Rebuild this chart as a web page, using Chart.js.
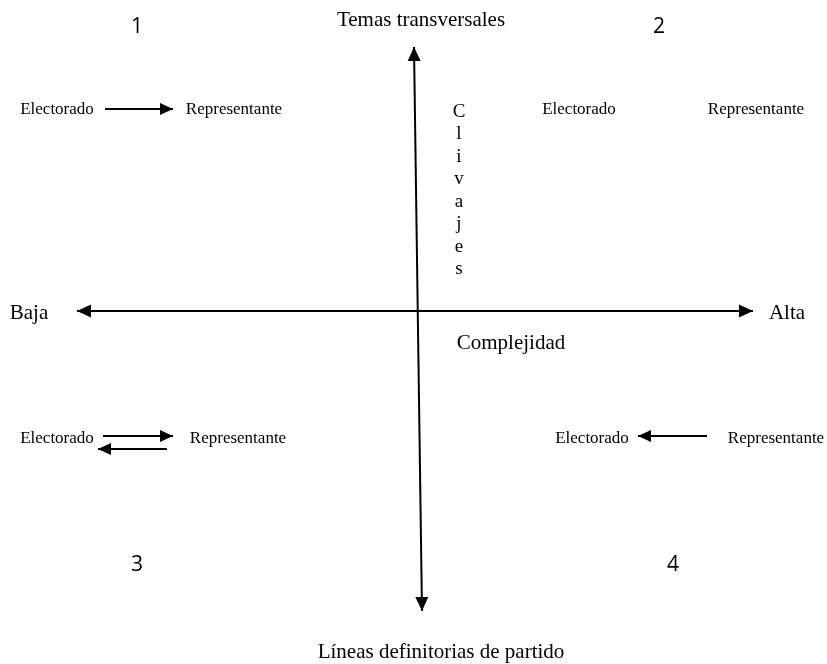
<!DOCTYPE html>
<html lang="es">
<head>
<meta charset="utf-8">
<title>Complejidad y clivajes</title>
<script src="https://cdn.jsdelivr.net/npm/chart.js@4/dist/chart.umd.min.js"></script>
<style>
  html, body { margin: 0; padding: 0; background: #fff; }
  #wrap { width: 827px; height: 664px; position: relative; }
</style>
</head>
<body>
<div id="wrap"><canvas id="diagram"></canvas></div>
<script>
// diagram space: origin where the two axes cross, y grows upwards
const xRange = [-418, 409];
const yRange = [-353, 311];

// axes (both ends carry an arrowhead)
const axisComplejidad = [{ x: -341, y: 0 }, { x: 335, y: 0 }];
const axisClivajes = [{ x: -4, y: 264 }, { x: 4, y: -300 }];

// relation arrows, drawn from first point to head
const arrowsQ1 = [[{ x: -313, y: 202 }, { x: -245, y: 202 }]];
const arrowsQ3 = [
  [{ x: -315, y: -125 }, { x: -245, y: -125 }],
  [{ x: -251, y: -138 }, { x: -320, y: -138 }],
];
const arrowsQ4 = [[{ x: 289, y: -125 }, { x: 220, y: -125 }]];

// quadrant numbers
const quadrantNums = ['1', '2', '3', '4'];
const quadrantPos = [{ x: -281, y: 284 }, { x: 241, y: 284 }, { x: -281, y: -254 }, { x: 255, y: -254 }];

// actor labels per quadrant
const actorLabels = ['Electorado', 'Representante'];
const actorPos = [
  [{ x: -361, y: 201 }, { x: -184, y: 201 }],
  [{ x: 161, y: 201 }, { x: 338, y: 201 }],
  [{ x: -361, y: -128 }, { x: -180, y: -128 }],
  [{ x: 174, y: -128 }, { x: 358, y: -128 }],
];

// axis titles
const axisTitles = ['Temas transversales', 'Complejidad', 'Líneas definitorias de partido', 'Baja', 'Alta'];
const axisTitlePos = [{ x: 3, y: 291 }, { x: 93, y: -32 }, { x: 23, y: -341 }, { x: -389, y: -2 }, { x: 369, y: -2 }];

// vertical word beside the upper axis
const verticalWord = 'Clivajes';
const verticalWordStart = { x: 41, y: 199 };

const serif = '"Liberation Serif", "Times New Roman", serif';
const sans = '"Open Sans", "Noto Sans", sans-serif';

function segment(points, opts) {
  return {
    type: 'line',
    data: points,
    showLine: true,
    borderColor: '#000',
    borderWidth: opts.width,
    pointRadius: 0,
    fill: false,
    arrow: opts,
  };
}

const datasets = [
  segment(axisComplejidad, { width: 2, both: true, len: 14, half: 6.5 }),
  segment(axisClivajes, { width: 2, both: true, len: 14, half: 6.5 }),
  ...[...arrowsQ1, ...arrowsQ3, ...arrowsQ4].map((p) => segment(p, { width: 2, both: false, len: 13, half: 6 })),
];

function drawHead(ctx, from, to, len, half) {
  const ang = Math.atan2(to.y - from.y, to.x - from.x);
  ctx.save();
  ctx.translate(to.x, to.y);
  ctx.rotate(ang);
  ctx.beginPath();
  ctx.moveTo(0, 0);
  ctx.lineTo(-len, -half);
  ctx.lineTo(-len, half);
  ctx.closePath();
  ctx.fill();
  ctx.restore();
}

const diagramPlugin = {
  id: 'diagram',
  afterDatasetsDraw(chart) {
    const { ctx, scales } = chart;
    const px = (p) => ({ x: scales.x.getPixelForValue(p.x), y: scales.y.getPixelForValue(p.y) });
    ctx.save();
    ctx.fillStyle = '#000';
    chart.data.datasets.forEach((ds) => {
      const pts = ds.data.map(px);
      const a = ds.arrow;
      drawHead(ctx, pts[pts.length - 2], pts[pts.length - 1], a.len, a.half);
      if (a.both) drawHead(ctx, pts[1], pts[0], a.len, a.half);
    });

    ctx.textAlign = 'center';
    ctx.textBaseline = 'middle';

    ctx.font = `21px ${sans}`;
    quadrantNums.forEach((n, i) => {
      const p = px(quadrantPos[i]);
      ctx.fillText(n, p.x, p.y);
    });

    ctx.font = `17px ${serif}`;
    actorPos.forEach((pair) => {
      pair.forEach((pos, i) => {
        const p = px(pos);
        ctx.fillText(actorLabels[i], p.x, p.y);
      });
    });

    ctx.font = `21px ${serif}`;
    axisTitles.forEach((t, i) => {
      const p = px(axisTitlePos[i]);
      ctx.fillText(t, p.x, p.y);
    });

    ctx.font = `19px ${serif}`;
    const start = px(verticalWordStart);
    [...verticalWord].forEach((ch, i) => {
      ctx.fillText(ch, start.x, start.y + i * 22.5);
    });
    ctx.restore();
  },
};

new Chart(document.getElementById('diagram'), {
  type: 'scatter',
  data: { datasets },
  options: {
    responsive: true,
    maintainAspectRatio: false,
    animation: false,
    devicePixelRatio: 1,
    layout: { padding: 0 },
    plugins: { legend: { display: false }, tooltip: { enabled: false }, title: { display: false } },
    scales: {
      x: { type: 'linear', min: xRange[0], max: xRange[1], display: false },
      y: { type: 'linear', min: yRange[0], max: yRange[1], display: false },
    },
  },
  plugins: [diagramPlugin],
});
</script>
</body>
</html>
